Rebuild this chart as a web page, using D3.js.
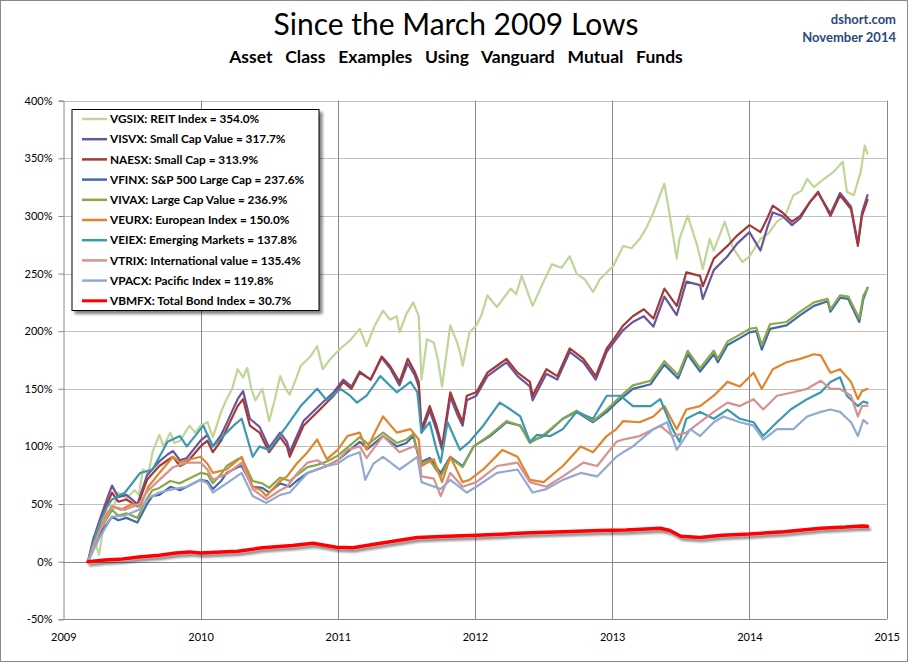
<!DOCTYPE html>
<html>
<head>
<meta charset="utf-8">
<script src="https://cdn.jsdelivr.net/npm/d3@7/dist/d3.min.js"></script>
<style>
  html, body { margin: 0; padding: 0; background: #fff; }
  svg { display: block; }
  text { font-family: Lato, "Open Sans", "DejaVu Sans", sans-serif; }
</style>
</head>
<body>
<svg id="chart" width="908" height="662"></svg>
<script>
// ---------------- DATA (decimal year, % gain since March 2009 low) ----------------
const yearTicks = [2009, 2010, 2011, 2012, 2013, 2014, 2015];
const pctTicks = [-50, 0, 50, 100, 150, 200, 250, 300, 350, 400];

const VGSIX = [[2009.18,0],[2009.22,22],[2009.26,6],[2009.30,35],[2009.32,51],[2009.36,45],[2009.40,60],[2009.46,55],[2009.52,62],[2009.55,58],[2009.58,80],[2009.62,76],[2009.65,95],[2009.70,110],[2009.73,100],[2009.78,112],[2009.81,103],[2009.85,105],[2009.92,118],[2009.96,112],[2010.0,118],[2010.05,121],[2010.09,108],[2010.15,130],[2010.19,141],[2010.23,150],[2010.27,167],[2010.31,160],[2010.34,168],[2010.37,150],[2010.40,140],[2010.45,150],[2010.50,122],[2010.54,140],[2010.58,161],[2010.62,150],[2010.65,145],[2010.70,160],[2010.73,170],[2010.80,178],[2010.85,187],[2010.89,167],[2010.94,175],[2011.02,185],[2011.09,192],[2011.16,202],[2011.21,187],[2011.27,205],[2011.33,218],[2011.38,210],[2011.43,213],[2011.45,199],[2011.50,215],[2011.55,225],[2011.59,213],[2011.61,158],[2011.65,193],[2011.70,190],[2011.73,175],[2011.76,152],[2011.82,205],[2011.87,190],[2011.89,182],[2011.91,170],[2011.96,199],[2012.01,205],[2012.05,215],[2012.09,231],[2012.16,221],[2012.26,237],[2012.30,232],[2012.34,248],[2012.42,222],[2012.50,243],[2012.56,258],[2012.63,255],[2012.69,265],[2012.74,250],[2012.80,245],[2012.86,234],[2012.91,245],[2012.96,251],[2013.01,257],[2013.08,274],[2013.14,272],[2013.20,280],[2013.25,290],[2013.30,303],[2013.38,328],[2013.42,300],[2013.47,263],[2013.49,280],[2013.55,300],[2013.62,274],[2013.66,254],[2013.71,280],[2013.74,270],[2013.82,295],[2013.88,272],[2013.95,260],[2014.0,265],[2014.08,280],[2014.14,285],[2014.20,295],[2014.26,300],[2014.32,318],[2014.38,322],[2014.42,332],[2014.47,325],[2014.52,330],[2014.61,338],[2014.68,347],[2014.71,321],[2014.76,318],[2014.81,338],[2014.84,361],[2014.86,354]];

const VISVX = [[2009.18,0],[2009.22,20],[2009.27,38],[2009.32,55],[2009.355,66],[2009.40,56],[2009.46,58],[2009.54,50],[2009.61,75],[2009.70,87],[2009.76,93],[2009.80,96],[2009.85,88],[2009.90,90],[2010.0,105],[2010.05,110],[2010.09,100],[2010.15,110],[2010.19,120],[2010.27,141],[2010.31,148],[2010.36,124],[2010.43,117],[2010.50,99],[2010.58,112],[2010.63,104],[2010.65,95],[2010.75,122],[2010.87,136],[2010.97,147],[2011.04,158],[2011.10,152],[2011.16,165],[2011.24,158],[2011.32,177],[2011.38,168],[2011.45,153],[2011.51,172],[2011.56,162],[2011.59,152],[2011.61,112],[2011.67,131],[2011.72,114],[2011.76,97],[2011.82,143],[2011.87,128],[2011.91,118],[2011.94,140],[2012.01,144],[2012.09,161],[2012.16,167],[2012.23,173],[2012.31,161],[2012.40,152],[2012.42,140],[2012.52,163],[2012.60,158],[2012.69,182],[2012.79,173],[2012.88,158],[2012.96,182],[2013.01,190],[2013.08,201],[2013.15,208],[2013.23,213],[2013.30,204],[2013.38,230],[2013.47,214],[2013.54,243],[2013.64,240],[2013.66,228],[2013.74,253],[2013.84,265],[2013.91,276],[2014.0,286],[2014.08,270],[2014.13,290],[2014.17,303],[2014.24,300],[2014.31,292],[2014.37,298],[2014.44,312],[2014.50,320],[2014.59,302],[2014.66,320],[2014.74,308],[2014.79,276],[2014.82,303],[2014.86,318]];

const NAESX = [[2009.18,0],[2009.22,18],[2009.27,35],[2009.32,50],[2009.355,60],[2009.40,52],[2009.46,54],[2009.54,48],[2009.61,71],[2009.70,83],[2009.76,88],[2009.80,91],[2009.85,83],[2009.90,86],[2010.0,100],[2010.05,105],[2010.09,95],[2010.15,105],[2010.19,115],[2010.27,135],[2010.31,141],[2010.36,118],[2010.43,112],[2010.50,95],[2010.58,108],[2010.63,100],[2010.65,91],[2010.75,118],[2010.87,132],[2010.97,144],[2011.04,156],[2011.10,150],[2011.16,164],[2011.24,158],[2011.32,178],[2011.38,170],[2011.45,156],[2011.51,176],[2011.56,165],[2011.59,156],[2011.61,115],[2011.67,135],[2011.72,118],[2011.76,100],[2011.82,147],[2011.87,132],[2011.91,121],[2011.94,144],[2012.01,147],[2012.09,164],[2012.16,170],[2012.23,176],[2012.31,164],[2012.40,156],[2012.42,144],[2012.52,167],[2012.60,161],[2012.69,185],[2012.79,176],[2012.88,161],[2012.96,185],[2013.01,193],[2013.08,205],[2013.15,213],[2013.23,219],[2013.30,211],[2013.38,237],[2013.47,222],[2013.54,251],[2013.64,248],[2013.66,239],[2013.74,263],[2013.84,274],[2013.91,283],[2014.0,292],[2014.08,286],[2014.13,298],[2014.17,309],[2014.24,303],[2014.31,295],[2014.37,300],[2014.44,312],[2014.50,321],[2014.59,300],[2014.66,318],[2014.74,306],[2014.79,274],[2014.82,300],[2014.86,314]];

const VFINX = [[2009.18,0],[2009.22,12],[2009.27,25],[2009.32,33],[2009.355,39],[2009.40,36],[2009.46,38],[2009.54,34],[2009.61,50],[2009.65,57],[2009.70,58],[2009.78,65],[2009.85,62],[2009.90,65],[2010.0,71],[2010.05,70],[2010.09,63],[2010.15,70],[2010.19,77],[2010.27,82],[2010.30,83],[2010.38,65],[2010.45,64],[2010.50,60],[2010.58,68],[2010.65,65],[2010.70,70],[2010.78,77],[2010.85,80],[2010.92,83],[2011.0,88],[2011.07,95],[2011.16,104],[2011.22,98],[2011.33,109],[2011.43,100],[2011.50,103],[2011.55,109],[2011.60,86],[2011.67,90],[2011.75,77],[2011.82,91],[2011.91,83],[2011.99,100],[2012.11,109],[2012.23,121],[2012.33,118],[2012.40,104],[2012.50,109],[2012.64,124],[2012.74,130],[2012.86,121],[2012.96,130],[2013.03,138],[2013.15,150],[2013.28,154],[2013.38,171],[2013.48,159],[2013.55,180],[2013.64,165],[2013.74,180],[2013.77,173],[2013.84,188],[2013.93,194],[2014.0,199],[2014.05,200],[2014.09,184],[2014.15,202],[2014.27,205],[2014.37,214],[2014.47,222],[2014.57,226],[2014.59,217],[2014.66,229],[2014.72,228],[2014.80,208],[2014.83,228],[2014.86,237.6]];

const VIVAX = [[2009.18,0],[2009.22,14],[2009.27,28],[2009.32,38],[2009.355,45],[2009.40,40],[2009.46,42],[2009.54,38],[2009.61,55],[2009.65,62],[2009.70,64],[2009.78,70],[2009.85,68],[2009.90,71],[2010.0,77],[2010.05,76],[2010.09,68],[2010.15,76],[2010.19,83],[2010.27,89],[2010.30,90],[2010.38,70],[2010.45,68],[2010.50,64],[2010.58,73],[2010.65,70],[2010.70,75],[2010.78,82],[2010.85,84],[2010.92,87],[2011.0,92],[2011.07,99],[2011.16,108],[2011.22,102],[2011.33,112],[2011.43,103],[2011.50,106],[2011.55,111],[2011.60,85],[2011.67,88],[2011.75,74],[2011.82,90],[2011.91,82],[2011.99,100],[2012.11,110],[2012.23,122],[2012.33,118],[2012.40,103],[2012.50,110],[2012.64,124],[2012.74,131],[2012.86,122],[2012.96,132],[2013.03,140],[2013.15,153],[2013.28,157],[2013.38,174],[2013.48,162],[2013.55,183],[2013.64,168],[2013.74,183],[2013.77,176],[2013.84,191],[2013.93,197],[2014.0,202],[2014.05,203],[2014.09,188],[2014.15,206],[2014.27,208],[2014.37,217],[2014.47,225],[2014.57,228],[2014.59,219],[2014.66,231],[2014.72,230],[2014.80,211],[2014.83,231],[2014.86,236.9]];

const VEURX = [[2009.18,0],[2009.22,15],[2009.27,30],[2009.32,42],[2009.355,48],[2009.42,45],[2009.50,50],[2009.56,48],[2009.62,65],[2009.70,77],[2009.80,91],[2009.85,86],[2009.90,88],[2010.0,91],[2010.05,85],[2010.09,77],[2010.19,80],[2010.30,91],[2010.38,65],[2010.44,62],[2010.48,57],[2010.58,70],[2010.63,74],[2010.70,85],[2010.78,95],[2010.85,106],[2010.92,89],[2011.0,97],[2011.07,109],[2011.16,112],[2011.21,97],[2011.27,112],[2011.33,126],[2011.43,112],[2011.53,115],[2011.59,106],[2011.61,83],[2011.70,89],[2011.76,69],[2011.82,91],[2011.91,69],[2011.96,71],[2012.06,80],[2012.20,97],[2012.31,91],[2012.40,71],[2012.50,69],[2012.64,83],[2012.77,100],[2012.86,95],[2012.96,109],[2013.03,115],[2013.08,122],[2013.20,121],[2013.30,126],[2013.38,135],[2013.47,115],[2013.54,132],[2013.64,135],[2013.74,144],[2013.84,156],[2013.93,152],[2014.03,164],[2014.09,150],[2014.17,167],[2014.27,173],[2014.37,176],[2014.47,180],[2014.52,179],[2014.59,164],[2014.66,167],[2014.74,156],[2014.79,141],[2014.82,148],[2014.86,150]];

const VEIEX = [[2009.18,0],[2009.22,18],[2009.27,35],[2009.32,48],[2009.355,54],[2009.45,60],[2009.56,77],[2009.65,80],[2009.76,104],[2009.85,109],[2009.90,100],[2010.02,118],[2010.09,100],[2010.19,112],[2010.24,118],[2010.30,124],[2010.38,91],[2010.43,100],[2010.50,97],[2010.63,118],[2010.73,135],[2010.85,150],[2010.92,140],[2011.02,150],[2011.09,144],[2011.14,138],[2011.21,144],[2011.31,161],[2011.43,147],[2011.53,156],[2011.58,147],[2011.61,112],[2011.67,121],[2011.72,97],[2011.75,86],[2011.80,121],[2011.89,97],[2011.96,104],[2012.06,118],[2012.18,138],[2012.26,132],[2012.33,126],[2012.40,104],[2012.45,110],[2012.55,109],[2012.64,115],[2012.74,130],[2012.86,124],[2012.96,144],[2013.06,144],[2013.15,135],[2013.28,135],[2013.35,141],[2013.44,115],[2013.49,104],[2013.54,124],[2013.64,130],[2013.74,124],[2013.84,132],[2013.93,124],[2014.03,121],[2014.10,109],[2014.20,121],[2014.30,132],[2014.42,141],[2014.52,147],[2014.59,156],[2014.66,160],[2014.71,144],[2014.79,135],[2014.83,139],[2014.86,137.8]];

const VTRIX = [[2009.18,0],[2009.22,14],[2009.27,28],[2009.32,40],[2009.355,48],[2009.45,45],[2009.55,50],[2009.62,62],[2009.70,71],[2009.80,82],[2009.90,86],[2010.0,86],[2010.05,80],[2010.09,71],[2010.19,76],[2010.30,86],[2010.38,63],[2010.48,54],[2010.58,62],[2010.63,65],[2010.70,76],[2010.78,86],[2010.85,88],[2010.92,83],[2011.0,88],[2011.07,97],[2011.16,100],[2011.21,90],[2011.33,109],[2011.45,95],[2011.55,100],[2011.59,97],[2011.61,74],[2011.70,72],[2011.75,57],[2011.82,77],[2011.91,65],[2012.01,69],[2012.16,83],[2012.31,86],[2012.40,69],[2012.52,65],[2012.64,74],[2012.79,86],[2012.89,83],[2013.03,104],[2013.08,106],[2013.20,109],[2013.35,118],[2013.44,109],[2013.54,112],[2013.64,121],[2013.74,130],[2013.84,138],[2013.93,135],[2014.03,141],[2014.10,132],[2014.20,144],[2014.32,147],[2014.42,150],[2014.52,157],[2014.59,150],[2014.66,150],[2014.74,144],[2014.79,126],[2014.82,135],[2014.86,135.4]];

const VPACX = [[2009.18,0],[2009.22,10],[2009.27,22],[2009.32,32],[2009.355,39],[2009.45,40],[2009.55,45],[2009.62,55],[2009.70,60],[2009.80,63],[2009.90,65],[2010.0,71],[2010.05,68],[2010.09,60],[2010.19,68],[2010.30,77],[2010.38,57],[2010.48,51],[2010.58,58],[2010.65,60],[2010.78,77],[2010.92,83],[2011.0,85],[2011.07,91],[2011.16,95],[2011.20,71],[2011.26,85],[2011.33,91],[2011.45,80],[2011.58,91],[2011.61,69],[2011.75,63],[2011.82,71],[2011.94,60],[2012.01,65],[2012.16,77],[2012.31,80],[2012.42,60],[2012.52,63],[2012.64,71],[2012.77,77],[2012.89,74],[2013.03,91],[2013.08,95],[2013.15,100],[2013.30,115],[2013.40,121],[2013.47,97],[2013.57,115],[2013.64,109],[2013.74,121],[2013.81,126],[2013.93,121],[2014.03,118],[2014.10,106],[2014.20,115],[2014.32,115],[2014.42,126],[2014.52,130],[2014.59,132],[2014.66,130],[2014.74,121],[2014.79,109],[2014.83,123],[2014.86,119.8]];

const VBMFX = [[2009.18,0],[2009.30,1.5],[2009.41,2],[2009.55,4],[2009.70,5.5],[2009.82,7.5],[2009.92,8.5],[2010.0,7.5],[2010.15,8.5],[2010.27,9],[2010.45,12],[2010.67,14],[2010.82,16],[2010.99,12.5],[2011.11,12],[2011.31,16],[2011.58,21],[2011.80,22],[2012.01,23],[2012.40,25],[2012.64,26],[2012.90,27],[2013.10,27.5],[2013.35,29],[2013.42,27],[2013.50,22],[2013.64,21],[2013.80,23],[2014.0,24],[2014.25,26],[2014.52,29],[2014.70,30],[2014.82,31],[2014.86,30.7]];

const seriesNames = ["VGSIX: REIT Index = 354.0%","VISVX: Small Cap Value = 317.7%","NAESX: Small Cap = 313.9%","VFINX: S&P 500 Large Cap = 237.6%","VIVAX: Large Cap Value = 236.9%","VEURX: European Index = 150.0%","VEIEX: Emerging Markets = 137.8%","VTRIX: International value = 135.4%","VPACX: Pacific Index = 119.8%","VBMFX: Total Bond Index = 30.7%"];
const seriesData = [VGSIX, VISVX, NAESX, VFINX, VIVAX, VEURX, VEIEX, VTRIX, VPACX, VBMFX];
const seriesColors = ["#c0d598","#6c549a","#a23a3a","#4269ab","#87a948","#e2842e","#3a98b1","#d9918f","#93a9d2","#ff0000"];

// ---------------- DRAWING ----------------
const svg = d3.select("#chart");
const W = 908, H = 662;
const plot = {left: 63.3, right: 886.7, top: 100.7, bottom: 619.3};

const x = d3.scaleLinear().domain([2009, 2015]).range([plot.left, plot.right]);
const y = d3.scaleLinear().domain([-50, 400]).range([plot.bottom, plot.top]);

const defs = svg.append("defs");
const sh = defs.append("filter").attr("id","shadow").attr("x","-5%").attr("y","-50%").attr("width","110%").attr("height","200%");
sh.append("feGaussianBlur").attr("in","SourceAlpha").attr("stdDeviation",1.3).attr("result","b");
sh.append("feOffset").attr("in","b").attr("dx",2).attr("dy",3).attr("result","o");
sh.append("feComponentTransfer").attr("in","o").attr("result","o2")
  .append("feFuncA").attr("type","linear").attr("slope",0.45);
const m = sh.append("feMerge");
m.append("feMergeNode").attr("in","o2");
m.append("feMergeNode").attr("in","SourceGraphic");

const bs = defs.append("filter").attr("id","boxshadow").attr("x","-5%").attr("y","-5%").attr("width","115%").attr("height","115%");
bs.append("feGaussianBlur").attr("in","SourceAlpha").attr("stdDeviation",1.5).attr("result","b");
bs.append("feOffset").attr("in","b").attr("dx",3).attr("dy",3).attr("result","o");
bs.append("feComponentTransfer").attr("in","o").attr("result","o2")
  .append("feFuncA").attr("type","linear").attr("slope",0.5);
const m2 = bs.append("feMerge");
m2.append("feMergeNode").attr("in","o2");
m2.append("feMergeNode").attr("in","SourceGraphic");

svg.append("rect").attr("x",0.5).attr("y",0.5).attr("width",W-1).attr("height",H-1)
  .attr("fill","#fff").attr("stroke","#8a8a8a");

// Titles
svg.append("text").attr("x",456).attr("y",34.5).attr("text-anchor","middle")
  .attr("font-size",30).attr("fill","#000").text("Since the March 2009 Lows");
svg.append("text").attr("x",456).attr("y",62.5).attr("text-anchor","middle")
  .attr("font-size",17.5).attr("font-weight","bold").attr("fill","#000")
  .attr("word-spacing",8.5)
  .text("Asset Class Examples Using Vanguard Mutual Funds");
svg.append("text").attr("x",896).attr("y",24).attr("text-anchor","end")
  .attr("font-size",13).attr("font-weight","bold").attr("fill","#2b4a78").text("dshort.com");
svg.append("text").attr("x",896).attr("y",41.5).attr("text-anchor","end")
  .attr("font-size",13).attr("font-weight","bold").attr("fill","#2b4a78").text("November 2014");

// Horizontal gridlines
const g = svg.append("g");
g.selectAll("line.hg").data(pctTicks.filter(d => d !== 0 && d !== -50)).enter().append("line")
  .attr("x1",plot.left).attr("x2",plot.right)
  .attr("y1",d => Math.round(y(d))+0.5).attr("y2",d => Math.round(y(d))+0.5)
  .attr("stroke","#c0c0c0").attr("stroke-width",1);
// Vertical gridlines
g.selectAll("line.vg").data(yearTicks.slice(1)).enter().append("line")
  .attr("x1",d => Math.round(x(d))+0.5).attr("x2",d => Math.round(x(d))+0.5)
  .attr("y1",plot.top).attr("y2",plot.bottom)
  .attr("stroke","#888888").attr("stroke-width",1);

// Axes
const yAxis = d3.axisLeft(y).tickValues(pctTicks).tickSize(5).tickFormat(d => d + "%");
const ya = svg.append("g").attr("transform",`translate(${Math.round(plot.left)+0.5},0)`).call(yAxis);
ya.select(".domain").attr("stroke","#888888");
ya.selectAll(".tick line").attr("stroke","#888888");
ya.selectAll(".tick text").attr("font-size",11).attr("fill","#000").attr("x",-11)
  .attr("font-family","Lato, 'Open Sans', sans-serif");

// zero axis line and bottom line
[0, -50].forEach(v => {
  svg.append("line").attr("x1",plot.left).attr("x2",plot.right)
    .attr("y1",Math.round(y(v))+0.5).attr("y2",Math.round(y(v))+0.5)
    .attr("stroke","#888888").attr("stroke-width",1);
});

const xAxis = d3.axisBottom(x).tickValues(yearTicks).tickSize(0).tickFormat(d3.format("d"));
const xa = svg.append("g").attr("transform",`translate(0,${plot.bottom})`).call(xAxis);
xa.select(".domain").remove();
xa.selectAll(".tick text").attr("font-size",11).attr("fill","#000").attr("dy",0).attr("y",22)
  .attr("font-family","Lato, 'Open Sans', sans-serif");

// Lines
const line = d3.line().x(d => x(d[0])).y(d => y(d[1])).curve(d3.curveLinear);
const lines = svg.append("g");
seriesData.forEach((s, i) => {
  const isBond = i === seriesData.length - 1;
  lines.append("path").datum(s)
    .attr("d", line)
    .attr("fill","none")
    .attr("stroke", seriesColors[i])
    .attr("stroke-width", isBond ? 3.5 : 2.2)
    .attr("stroke-linejoin","round")
    .attr("stroke-linecap","round")
    .attr("filter", isBond ? "url(#shadow)" : null);
});

// Legend
const lg = svg.append("g");
lg.append("rect").attr("x",72).attr("y",109.5).attr("width",247).attr("height",201)
  .attr("fill","#fff").attr("stroke","#000").attr("stroke-width",1).attr("filter","url(#boxshadow)");
const items = lg.selectAll("g.item").data(seriesNames).enter().append("g")
  .attr("transform",(d,i) => `translate(0,${119 + i*20.2})`);
items.append("line").attr("x1",82).attr("x2",107).attr("y1",0).attr("y2",0)
  .attr("stroke",(d,i) => seriesColors[i]).attr("stroke-width",(d,i)=> i===9?3:2.5);
items.append("text").attr("x",110).attr("y",0).attr("dy","0.35em")
  .attr("font-size",11.8).attr("font-weight","bold").attr("fill","#000").text(d => d);
</script>
</body>
</html>
